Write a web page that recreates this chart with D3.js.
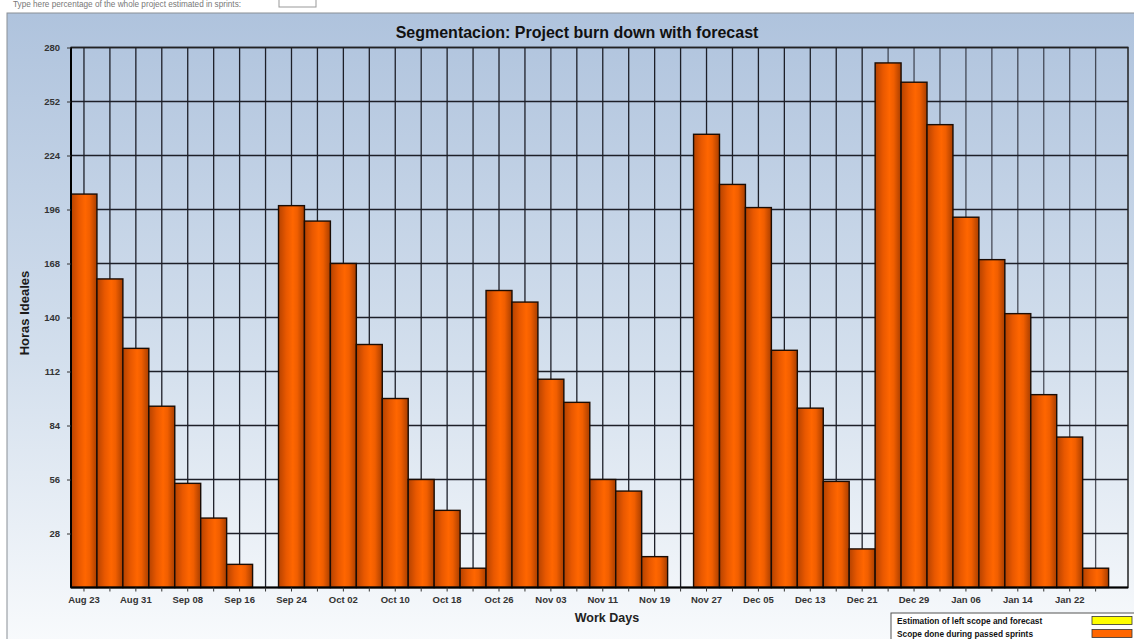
<!DOCTYPE html>
<html>
<head>
<meta charset="utf-8">
<script src="https://cdn.jsdelivr.net/npm/d3@7"></script>
<style>
  body { margin: 0; background: #fff; overflow: hidden; }
  svg text { font-family: "Liberation Sans", Arial, sans-serif; }
</style>
</head>
<body>
<svg id="chart" width="1134" height="639"></svg>
<script>
// data
const days = ["Aug 23", "Aug 27", "Aug 31", "Sep 04", "Sep 08", "Sep 12", "Sep 16", "Sep 20",
    "Sep 24", "Sep 28", "Oct 02", "Oct 06", "Oct 10", "Oct 14", "Oct 18", "Oct 22",
    "Oct 26", "Oct 30", "Nov 03", "Nov 07", "Nov 11", "Nov 15", "Nov 19", "Nov 23",
    "Nov 27", "Dec 01", "Dec 05", "Dec 09", "Dec 13", "Dec 17", "Dec 21", "Dec 25",
    "Dec 29", "Jan 02", "Jan 06", "Jan 10", "Jan 14", "Jan 18", "Jan 22", "Jan 26"];
const hoursLeft = [204, 160, 124, 94, 54, 36, 12, 0,
    198, 190, 168, 126, 98, 56, 40, 10,
    154, 148, 108, 96, 56, 50, 16, 0,
    235, 209, 197, 123, 93, 55, 20,
    272, 262, 240, 192, 170, 142, 100, 78, 10];
const yTicks = [28, 56, 84, 112, 140, 168, 196, 224, 252, 280];
const legendItems = ["Estimation of left scope and forecast", "Scope done during passed sprints"];
const legendColors = ["#ffff00", "#ff6600"];

const svg = d3.select("svg#chart");
const W = 1134, H = 639;
const plot = { left: 71, right: 1128, top: 47.5, bottom: 587.5 };
const step = 25.94;

const x = d3.scaleBand()
    .domain(days)
    .range([plot.left, plot.left + step * days.length])
    .padding(0);
const y = d3.scaleLinear().domain([0, 280]).range([plot.bottom, plot.top]);

const defs = svg.append("defs");
const bg = defs.append("linearGradient").attr("id", "bg").attr("x1", 0).attr("y1", 0).attr("x2", 0).attr("y2", 1);
bg.append("stop").attr("offset", "0%").attr("stop-color", "#afc3dd");
bg.append("stop").attr("offset", "55%").attr("stop-color", "#d3dfed");
bg.append("stop").attr("offset", "100%").attr("stop-color", "#f8fafc");

const barGrad = defs.append("linearGradient").attr("id", "bar").attr("x1", 0).attr("y1", 0).attr("x2", 1).attr("y2", 0);
barGrad.append("stop").attr("offset", "0%").attr("stop-color", "#b54200");
barGrad.append("stop").attr("offset", "30%").attr("stop-color", "#e85800");
barGrad.append("stop").attr("offset", "55%").attr("stop-color", "#ff6600");
barGrad.append("stop").attr("offset", "72%").attr("stop-color", "#f05e00");
barGrad.append("stop").attr("offset", "100%").attr("stop-color", "#a83e00");

// top form line (half hidden above the page edge in the original)
svg.append("text")
    .attr("x", 13).attr("y", 7)
    .attr("font-size", 8.2).attr("fill", "#777")
    .text("Type here percentage of the whole project estimated in sprints:");
svg.append("rect")
    .attr("x", 279).attr("y", -6).attr("width", 37).attr("height", 13)
    .attr("fill", "#fff").attr("stroke", "#999");

// panel
svg.append("rect")
    .attr("x", 7).attr("y", 13).attr("width", W - 7 + 2).attr("height", H - 13 + 2)
    .attr("fill", "url(#bg)").attr("stroke", "#8a8f96").attr("stroke-width", 1);

svg.append("text")
    .attr("x", 577).attr("y", 38)
    .attr("text-anchor", "middle")
    .attr("font-size", 16).attr("font-weight", "bold").attr("fill", "#111")
    .text("Segmentacion: Project burn down with forecast");

// grid
const grid = svg.append("g").attr("stroke", "#1d1f28").attr("stroke-width", 1.3);
grid.selectAll("line.h")
    .data(yTicks)
    .join("line")
    .attr("class", "h")
    .attr("x1", plot.left).attr("x2", plot.right)
    .attr("y1", d => y(d)).attr("y2", d => y(d));
grid.selectAll("line.v")
    .data(days)
    .join("line")
    .attr("class", "v")
    .attr("x1", d => x(d) + x.bandwidth() / 2).attr("x2", d => x(d) + x.bandwidth() / 2)
    .attr("y1", plot.top).attr("y2", plot.bottom)
    .attr("stroke-opacity", (d, i) => i > 30 ? 0.75 : 1);

// bars
svg.append("g").selectAll("rect")
    .data(days.map((d, i) => ({ day: d, v: hoursLeft[i] })).filter(d => d.v > 0))
    .join("rect")
    .attr("x", d => x(d.day))
    .attr("y", d => y(d.v))
    .attr("width", x.bandwidth())
    .attr("height", d => y(0) - y(d.v))
    .attr("fill", "url(#bar)")
    .attr("stroke", "#1a0c04")
    .attr("stroke-width", 1.4);

// frame
svg.append("rect")
    .attr("x", plot.left).attr("y", plot.top)
    .attr("width", plot.right - plot.left).attr("height", plot.bottom - plot.top)
    .attr("fill", "none").attr("stroke", "#222").attr("stroke-width", 1.5);
svg.append("line")
    .attr("x1", plot.left).attr("x2", plot.left).attr("y1", plot.top).attr("y2", plot.bottom)
    .attr("stroke", "#000").attr("stroke-width", 2);
svg.append("line")
    .attr("x1", plot.left).attr("x2", plot.right).attr("y1", plot.bottom).attr("y2", plot.bottom)
    .attr("stroke", "#000").attr("stroke-width", 2);

// axes
const yAxis = svg.append("g")
    .attr("transform", `translate(${plot.left},0)`)
    .call(d3.axisLeft(y).tickValues(yTicks).tickSize(4).tickPadding(7));
const xAxis = svg.append("g")
    .attr("transform", `translate(0,${plot.bottom})`)
    .call(d3.axisBottom(x).tickSize(4).tickPadding(5).tickFormat((d, i) => i % 2 === 0 ? d : ""));
[yAxis, xAxis].forEach(a => {
    a.select(".domain").remove();
    a.selectAll(".tick line").attr("stroke", "#333");
    a.selectAll(".tick text")
        .attr("font-family", "Liberation Sans, Arial, sans-serif")
        .attr("font-size", 9.5).attr("font-weight", "bold").attr("fill", "#333");
});

// axis titles
svg.append("text")
    .attr("transform", "translate(29,313) rotate(-90)")
    .attr("text-anchor", "middle")
    .attr("font-size", 13).attr("font-weight", "bold").attr("fill", "#1a1a1a")
    .text("Horas Ideales");
svg.append("text")
    .attr("x", 607).attr("y", 622)
    .attr("text-anchor", "middle")
    .attr("font-size", 12.5).attr("font-weight", "bold").attr("fill", "#222")
    .text("Work Days");

// legend
const legend = svg.append("g").attr("transform", "translate(891,613)");
legend.append("rect")
    .attr("width", 250).attr("height", 40)
    .attr("fill", "#fff").attr("stroke", "#555");
const rows = legend.selectAll("g.row")
    .data(legendItems)
    .join("g")
    .attr("class", "row")
    .attr("transform", (d, i) => `translate(0,${8 + i * 13})`);
rows.append("text")
    .attr("x", 6).attr("y", 3)
    .attr("font-size", 8.3).attr("font-weight", "bold").attr("fill", "#111")
    .text(d => d);
rows.append("rect")
    .attr("x", 201).attr("y", -4.5).attr("width", 40).attr("height", 8)
    .attr("fill", (d, i) => legendColors[i]).attr("stroke", "#333").attr("stroke-width", 0.8);
</script>
</body>
</html>
